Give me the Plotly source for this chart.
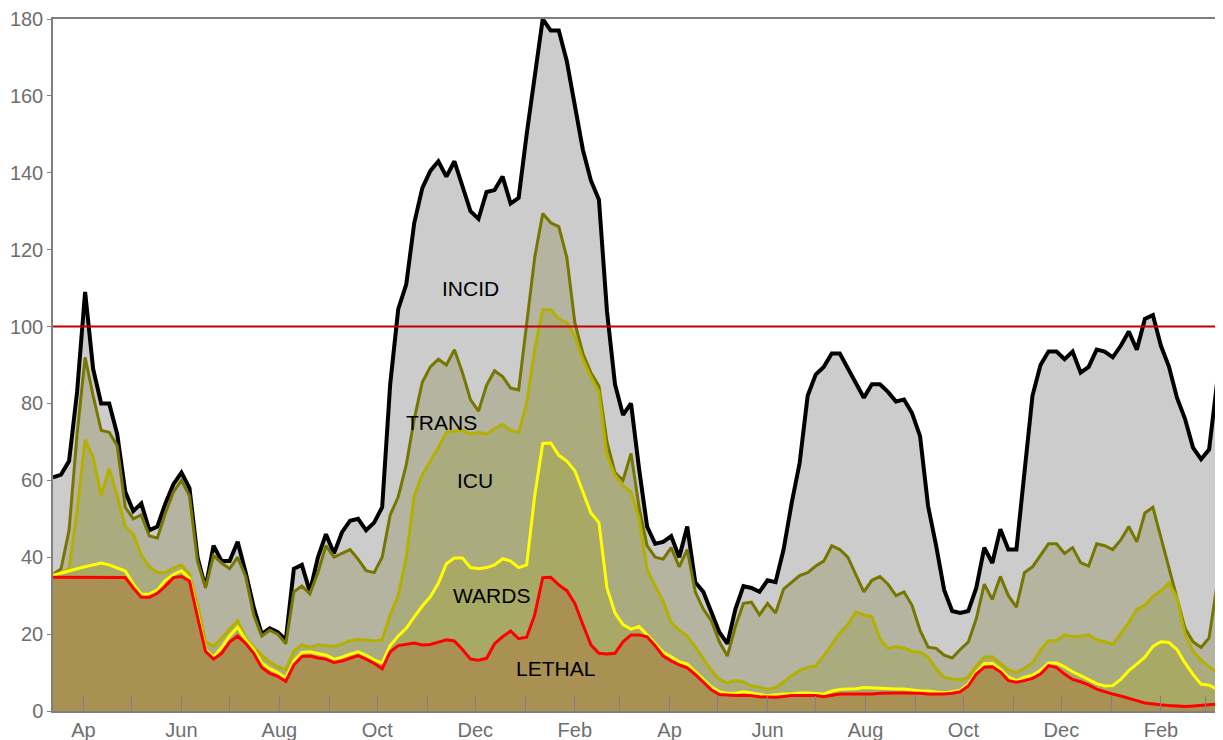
import pandas as pd
import plotly.graph_objects as go

# 5-day samples from 2020-03-13
dates = pd.date_range("2020-03-13", periods=147, freq="5D")

incid = [60.8, 61.5, 65, 83, 109, 89, 80, 80, 72, 57, 52, 54, 47, 48, 54, 59, 62, 58, 40, 32,
         43, 39, 39, 44, 36, 27, 20, 21.5, 20.5, 18.5, 37, 38, 31, 40, 46, 41, 46.5, 49.5, 50, 47,
         49, 53, 85, 104.5, 111, 127, 136, 140.5, 143, 139, 143, 136.5, 130, 128, 135, 135.5, 139, 132, 133.5, 150,
         165, 180, 177, 177, 169, 158, 146, 138, 133, 104, 85, 77, 80, 63, 48, 43.5, 44, 45.5, 40, 48,
         33.5, 31, 25.7, 20.5, 17.5, 26.5, 32.5, 32, 31, 34, 33.5, 42, 54, 64.5, 82, 87.5, 89.5, 93, 93, 89,
         85.5, 81.5, 85, 85, 83, 80.5, 81, 77.5, 71.5, 53.3, 43, 31.5, 26, 25.5, 26, 32, 42.5, 38.5, 47.3, 42,
         42, 63, 82, 90, 93.5, 93.5, 91.5, 93.5, 88, 89.5, 94, 93.5, 92, 95, 98.7, 94, 102, 103, 95, 89.6,
         81.5, 76, 68.5, 65.5, 68, 85.5, 84]

trans = [35.5, 37, 47, 72, 92, 82, 73, 72.5, 69, 53, 50, 51, 45.5, 45, 51.5, 57, 60, 56, 39, 32,
         40.5, 38.5, 37, 40, 35, 25, 19.5, 21, 20, 17.5, 31, 32.5, 30.5, 36, 43, 40, 41, 42, 39.5, 36.5,
         36, 40, 51, 55.7, 64, 76, 85.5, 89.5, 91.5, 90, 94, 88, 81, 78, 84.7, 88.5, 87, 84, 83.5, 100,
         118, 129.4, 127, 126, 118, 101, 93, 88, 84.5, 70, 62, 60, 67, 53, 43, 40, 39.5, 42.5, 37.5, 42,
         31, 26.5, 23.5, 18, 14.3, 22, 28, 28.3, 25, 28, 25.5, 31.7, 33.5, 35.2, 36, 37.7, 39, 43, 42, 40,
         35.5, 31, 34, 35, 33, 30, 31, 27.5, 21, 16.6, 16.3, 14.5, 13.8, 16, 17.9, 24, 33, 29, 35, 30,
         27, 36, 37.5, 40.5, 43.5, 43.5, 41, 42.5, 38.6, 37.7, 43.5, 43, 42, 44.5, 48, 44, 51.5, 53, 45, 37.7,
         29, 21.5, 18, 16.5, 19, 33, 33]

icu = [35.2, 35.8, 37, 52, 70.6, 66, 56, 63, 56, 48, 46, 40.5, 37.5, 36, 36, 37.2, 38, 35.5, 27.5, 18,
       16.8, 18.9, 21.3, 23.5, 19, 16.5, 14.5, 12.7, 11.5, 10.8, 15.5, 17.3, 16.5, 17.2, 17, 16.8, 17.4, 18.3, 18.6, 18.5,
       18.2, 18.5, 25, 30, 40, 56, 61.5, 65, 68.5, 72.5, 72.8, 73, 72, 72.5, 72, 73.5, 74.5, 73, 72.5, 80,
       94, 104.4, 104.4, 102, 101, 97.5, 91.5, 87, 83, 66.5, 61.4, 58.6, 57, 50, 37, 32.5, 28.5, 23, 21, 19.5,
       16.6, 13.5, 10.6, 8.2, 7.3, 8, 7.5, 6.5, 6.2, 5.6, 6.1, 7.5, 9.2, 10.5, 11.4, 11.7, 14.3, 17.3, 20.3, 22.5,
       25.8, 25, 24.5, 18.8, 16.3, 16.8, 16.4, 15.5, 15.3, 14, 11, 8.7, 8.3, 8.1, 8.8, 11.7, 14, 14.1, 12.5, 10.7,
       10, 11.1, 12.5, 15.8, 18.3, 18.3, 19.8, 19.3, 19.5, 19.8, 18.5, 18, 17.3, 20, 23, 26.5, 27.5, 29.8, 31.2, 33.3,
       29.5, 20, 15.5, 13.3, 11.5, 10, 8.8]

wards = [35.3, 35.8, 36.5, 37, 37.5, 38, 38.5, 38, 37.2, 36.4, 33, 30.4, 30.4, 31.5, 34, 35.5, 36.5, 34.5, 25.5, 16,
         14, 16.5, 19.5, 21.8, 18.5, 16, 12.5, 11, 10, 8.6, 13, 15.2, 15.4, 15, 14.5, 13.5, 14, 14.8, 15.4, 14.5,
         13.3, 12.5, 17, 19.5, 21.5, 24.5, 27.3, 29.7, 33.2, 38.3, 39.8, 39.8, 37.3, 37, 37.3, 38, 39.6, 39, 37.3, 38,
         56, 69.6, 69.7, 66.5, 65, 62.5, 57, 51.5, 49, 32, 25.5, 22.5, 21.3, 22, 19.8, 17.5, 15.3, 14.1, 12.8, 12.2,
         10.3, 8.3, 6.3, 5, 4.6, 4.6, 5, 4.7, 4.4, 4, 4.2, 4.4, 4.4, 4.7, 4.7, 4.6, 4.4, 5.2, 5.6, 5.7,
         5.8, 6.1, 6, 5.9, 5.7, 5.7, 5.7, 5.4, 5.2, 5.2, 5, 4.7, 5, 5.4, 7, 10, 12.3, 12.4, 10.8, 8.8,
         7.9, 8.8, 9.3, 10.6, 12.5, 12.5, 11.5, 10.2, 9.2, 8.1, 7.1, 6.5, 6.6, 8.2, 10.5, 12.2, 14, 16.8, 18, 17.8,
         16, 12.5, 9.5, 7, 6.7, 5.7, 5.6]

lethal = [34.8, 34.8, 34.8, 34.8, 34.8, 34.8, 34.8, 34.8, 34.8, 34.7, 32, 29.6, 29.6, 30.6, 32.5, 34.7, 35, 33.8, 24.5, 15.5,
          13.5, 15, 17.9, 19.5, 17.6, 15, 11.3, 9.8, 9, 7.7, 12, 14.2, 14.3, 13.8, 13.5, 12.6, 13, 13.8, 14.4, 13.5,
          12.4, 11, 15.4, 17, 17.4, 17.7, 17.2, 17.3, 17.9, 18.5, 18.2, 16, 13.5, 13.2, 13.7, 17.5, 19.3, 20.8, 18.8, 19.2,
          25, 34.7, 34.8, 32.8, 31.3, 28, 22.5, 17.2, 15, 14.8, 15, 18, 19.8, 19.8, 19.3, 17, 14.3, 13, 12, 11.2,
          9.5, 7.5, 5.5, 4.3, 4.1, 4, 4.1, 4, 3.7, 3.6, 3.6, 3.8, 4, 4, 4, 4, 3.7, 4, 4.4, 4.4,
          4.4, 4.4, 4.4, 4.6, 4.7, 4.7, 4.7, 4.7, 4.6, 4.4, 4.4, 4.4, 4.6, 5, 6.5, 9.6, 11.4, 11.5, 10.2, 7.9,
          7.5, 7.9, 8.5, 9.6, 11.8, 11.3, 9.6, 8.2, 7.6, 6.8, 5.7, 5, 4.4, 3.9, 3.2, 2.7, 2.1, 1.8, 1.6, 1.4,
          1.3, 1.2, 1.3, 1.5, 1.7, 1.9, 2]

threshold = 100

month_ticks = pd.date_range("2020-04-01", "2022-03-01", freq="MS")
month_names = ["Ap", "", "Jun", "", "Aug", "", "Oct", "", "Dec", "", "Feb", "",
               "Ap", "", "Jun", "", "Aug", "", "Oct", "", "Dec", "", "Feb", ""]

series = [
    ("INCID", incid, "#000000", "#cccccc", 4),
    ("TRANS", trans, "#767600", "#b4b4a1", 3),
    ("ICU", icu, "#b4b000", "#abab80", 3),
    ("WARDS", wards, "#ffff00", "#a9a966", 3),
    ("LETHAL", lethal, "#ff0000", "#a89152", 3),
]

fig = go.Figure()
for name, vals, lc, fc, w in series:
    fig.add_trace(go.Scatter(
        x=dates, y=vals, name=name, mode="lines",
        line=dict(color=lc, width=w),
        fill="tozeroy", fillcolor=fc,
    ))

# seuil
fig.add_shape(type="line", xref="paper", x0=0, x1=1, yref="y", y0=threshold, y1=threshold,
              line=dict(color="#c00000", width=2), layer="above")

labels = [
    ("INCID", "2020-11-28", 110),
    ("TRANS", "2020-11-10", 75),
    ("ICU", "2020-12-01", 60),
    ("WARDS", "2020-12-11", 30),
    ("LETHAL", "2021-01-20", 11),
]
for txt, xd, yv in labels:
    fig.add_annotation(x=xd, y=yv, text=txt, showarrow=False,
                       font=dict(size=21, color="black", family="Arial, Liberation Sans"))

# la page ajoute une marge de 8px autour du graphique
fig.update_layout(
    width=1215, height=732,
    margin=dict(l=45, r=0, t=11, b=29, autoexpand=False),
    paper_bgcolor="white", plot_bgcolor="white",
    showlegend=False,
    font=dict(family="Arial, Liberation Sans", size=19, color="#6e6e6e"),
)
fig.update_xaxes(
    range=["2020-03-13", "2022-03-11 16:00"],
    tickvals=month_ticks, ticktext=month_names,
    ticks="inside", ticklen=15, tickcolor="#808080", tickwidth=1,
    showline=True, linecolor="#808080", linewidth=1.5, mirror=True,
    showgrid=False, zeroline=False, automargin=False,
    tickfont=dict(size=20),
)
fig.update_yaxes(
    range=[0, 180], tickvals=list(range(0, 181, 20)),
    ticks="outside", ticklen=4, tickcolor="#808080",
    showline=True, linecolor="#808080", linewidth=1.5,
    showgrid=False, zeroline=False, automargin=False,
    tickfont=dict(size=20),
)

fig.write_html("out.html")
